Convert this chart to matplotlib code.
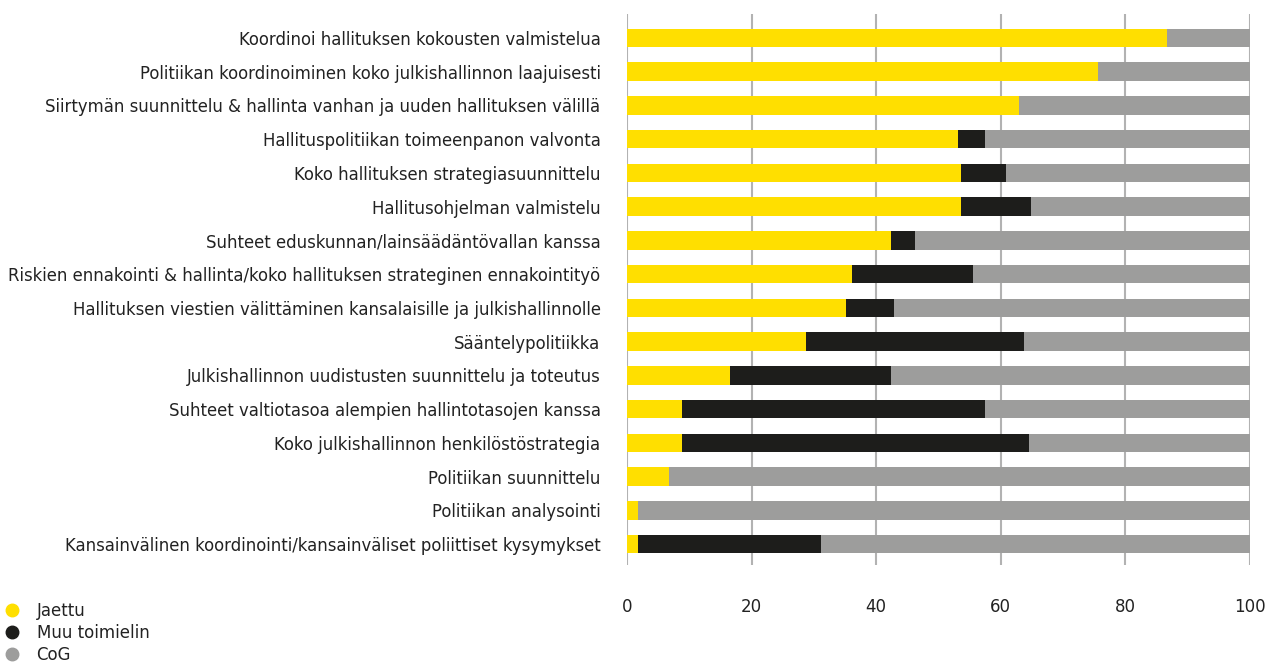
import numpy as np
import matplotlib.pyplot as plt
from matplotlib.lines import Line2D

plt.rcParams['font.family'] = ['DejaVu Sans']

categories = [
    'Koordinoi hallituksen kokousten valmistelua',
    'Politiikan koordinoiminen koko julkishallinnon laajuisesti',
    'Siirtymän suunnittelu & hallinta vanhan ja uuden hallituksen välillä',
    'Hallituspolitiikan toimeenpanon valvonta',
    'Koko hallituksen strategiasuunnittelu',
    'Hallitusohjelman valmistelu',
    'Suhteet eduskunnan/lainsäädäntövallan kanssa',
    'Riskien ennakointi & hallinta/koko hallituksen strateginen ennakointityö',
    'Hallituksen viestien välittäminen kansalaisille ja julkishallinnolle',
    'Sääntelypolitiikka',
    'Julkishallinnon uudistusten suunnittelu ja toteutus',
    'Suhteet valtiotasoa alempien hallintotasojen kanssa',
    'Koko julkishallinnon henkilöstöstrategia',
    'Politiikan suunnittelu',
    'Politiikan analysointi',
    'Kansainvälinen koordinointi/kansainväliset poliittiset kysymykset',
]
jaettu = [86.7, 75.6, 62.9, 53.1, 53.6, 53.6, 42.3, 36.1, 35.1, 28.8, 16.6, 8.9, 8.9, 6.7, 1.7, 1.7]
muu = [0, 0, 0, 4.4, 7.2, 11.3, 4.0, 19.5, 7.8, 34.9, 25.7, 48.5, 55.6, 0, 0, 29.5]
cog = [100 - j - m for j, m in zip(jaettu, muu)]

series_names = ['Jaettu', 'Muu toimielin', 'CoG']
colors = ['#ffdf00', '#1d1d1b', '#9d9d9c']
text_color = '#222222'

fig = plt.figure(figsize=(12.72, 6.64), dpi=100)
ax = fig.add_axes([0.4929, 0.1491, 0.4898, 0.8298])

# stacked horizontal bars, first category on top
y = np.arange(len(categories))
left = np.zeros(len(categories))
for vals, col in zip([jaettu, muu, cog], colors):
    ax.barh(y, vals, left=left, height=0.55, color=col, zorder=3)
    left += np.array(vals)

ax.set_xlim(0, 100)
ax.set_ylim(15.62, -0.71)
ax.set_xticks(np.arange(0, 101, 20))
ax.set_yticks(y)
ax.set_yticklabels(categories)
ax.grid(axis='x', color='#b2b2b2', linewidth=1.5, zorder=0)
for s in ax.spines.values():
    s.set_visible(False)
ax.tick_params(axis='y', length=0, pad=19, labelsize=11.9, labelcolor=text_color)
ax.tick_params(axis='x', length=0, pad=24, labelsize=12, labelcolor=text_color)

handles = [Line2D([], [], marker='o', linestyle='none', markersize=9,
                  markerfacecolor=c, markeredgecolor=c) for c in colors]
fig.legend(handles, series_names, loc='upper left', bbox_to_anchor=(-0.004, 0.104),
           frameon=False, fontsize=12, handletextpad=0.9, labelspacing=0.26,
           handlelength=1.2, borderaxespad=0, labelcolor=text_color)

fig.savefig('out.png', dpi=100)
